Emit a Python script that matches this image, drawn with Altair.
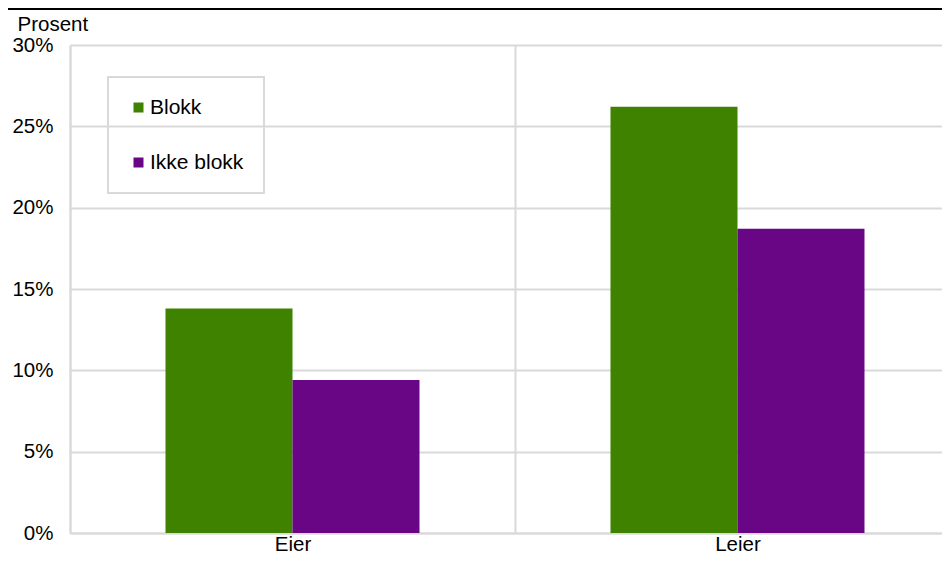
import altair as alt
import pandas as pd

categories = ["Eier", "Leier"]
series = ["Blokk", "Ikke blokk"]
blokk = [0.138, 0.262]
ikke_blokk = [0.094, 0.187]
y_ticks = [0, 0.05, 0.10, 0.15, 0.20, 0.25, 0.30]
colors = ["#3e8200", "#680686"]

rows = []
for i, c in enumerate(categories):
    rows.append({"kat": c, "serie": series[0], "verdi": blokk[i]})
    rows.append({"kat": c, "serie": series[1], "verdi": ikke_blokk[i]})
df = pd.DataFrame(rows)

FONT = "Liberation Sans"
GRID = "#d9d9d9"
PLOT_TOP = 37
PLOT_H = 488
PLOT_W = 872

bars = alt.Chart(df).mark_bar().encode(
    x=alt.X(
        "kat:N",
        sort=categories,
        scale=alt.Scale(range=[0, 890], paddingInner=0, paddingOuter=0),
        axis=alt.Axis(
            title=None,
            labelAngle=0,
            tickBand="extent",
            grid=True,
            gridColor=GRID,
            gridWidth=2,
            ticks=False,
            tickSize=0,
            domainColor=GRID,
            domainWidth=2,
            labelFont=FONT,
            labelFontSize=20.5,
            labelColor="#000000",
            labelPadding=1,
        ),
    ),
    xOffset=alt.XOffset(
        "serie:N",
        sort=series,
        scale=alt.Scale(paddingInner=0, paddingOuter=0.752),
    ),
    y=alt.Y(
        "verdi:Q",
        scale=alt.Scale(domain=[0, 0.30], nice=False),
        axis=alt.Axis(
            title="Prosent",
            titleAngle=0,
            titleAlign="left",
            titleBaseline="alphabetic",
            titleX=-53,
            titleY=-15,
            titleFont=FONT,
            titleFontSize=20.5,
            titleFontWeight="normal",
            titleColor="#000000",
            values=y_ticks,
            format=".0%",
            grid=True,
            gridColor=GRID,
            gridWidth=2,
            ticks=False,
            tickSize=0,
            domainColor=GRID,
            domainWidth=2,
            labelFont=FONT,
            labelFontSize=20.5,
            labelColor="#000000",
            labelPadding=17,
        ),
    ),
    color=alt.Color(
        "serie:N",
        sort=series,
        scale=alt.Scale(domain=series, range=colors),
        legend=alt.Legend(
            title=None,
            orient="none",
            legendX=38,
            legendY=32,
            symbolType="square",
            symbolSize=100,
            symbolStrokeWidth=0,
            labelFont=FONT,
            labelFontSize=21,
            labelColor="#000000",
            labelOffset=1,
            rowPadding=33,
            padding=20,
            strokeColor=GRID,
            labelLimit=300,
        ),
    ),
)

top_line = alt.Chart(pd.DataFrame({"a": [0]})).mark_rule(
    color="#000000", strokeWidth=2
).encode(
    x=alt.value(-62), x2=alt.value(890), y=alt.value(1 - PLOT_TOP)
)

chart = (
    alt.layer(bars, top_line)
    .properties(
        width=PLOT_W,
        height=PLOT_H,
        autosize=alt.AutoSizeParams(type="none"),
        padding={"left": 62, "top": PLOT_TOP, "right": 0, "bottom": 22},
    )
    .configure_view(stroke=None)
    .configure_legend(strokeWidth=2)
)

chart.save("out.html", embed_options={"renderer": "svg", "actions": False})
